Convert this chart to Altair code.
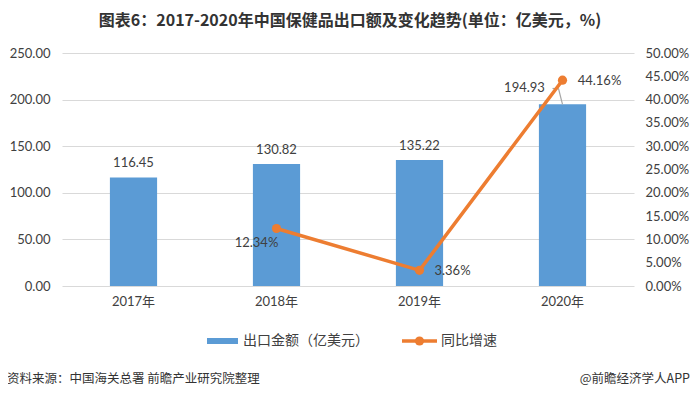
import altair as alt
import pandas as pd

years = ["2017年", "2018年", "2019年", "2020年"]
export_values = [116.45, 130.82, 135.22, 194.93]
export_labels = ["116.45", "130.82", "135.22", "194.93"]
growth_years = ["2018年", "2019年", "2020年"]
growth_rates = [0.1234, 0.0336, 0.4416]
growth_labels = ["12.34%", "3.36%", "44.16%"]
left_ticks = [0, 50, 100, 150, 200, 250]
right_ticks = [0.0, 0.05, 0.10, 0.15, 0.20, 0.25, 0.30, 0.35, 0.40, 0.45, 0.50]

title_text = "图表6：2017-2020年中国保健品出口额及变化趋势(单位：亿美元，%)"
legend_bar = "出口金额（亿美元）"
legend_line = "同比增速"
source_text = "资料来源：中国海关总署 前瞻产业研究院整理"
brand_text = "@前瞻经济学人APP"

BLUE = "#5B9BD5"
ORANGE = "#ED7D31"
GRID = "#D9D9D9"
TXT = "#404040"
FONT = 'Lato, "Noto Sans CJK SC", sans-serif'
CJK = '"Noto Sans CJK SC", sans-serif'

bars_df = pd.DataFrame({"year": years, "value": export_values, "label": export_labels})
line_df = pd.DataFrame({"year": growth_years, "rate": growth_rates, "label": growth_labels})
one = pd.DataFrame({"k": [0]})

xenc = alt.X("year:N", sort=years,
             scale=alt.Scale(paddingInner=0.67, paddingOuter=0.335),
             axis=alt.Axis(title=None, labelAngle=0, ticks=False, domain=False,
                           labelFont=FONT, labelFontSize=13, labelColor=TXT, labelPadding=9))

left_axis = alt.Axis(title=None, values=left_ticks, format=".2f", grid=True,
                     gridColor=GRID, domain=False, ticks=False, labelPadding=12,
                     labelFont=FONT, labelFontSize=13, labelColor=TXT)
left_scale = alt.Scale(domain=[0, 250], nice=False)
yleft = alt.Y("value:Q", scale=left_scale, axis=left_axis)

yright = alt.Y("rate:Q", scale=alt.Scale(domain=[0, 0.5], nice=False),
               axis=alt.Axis(title=None, orient="right", values=right_ticks, format=".2%",
                             grid=False, domain=False, ticks=False, labelPadding=11,
                             labelFont=FONT, labelFontSize=13, labelColor=TXT))

base_b = alt.Chart(bars_df)
bars = base_b.mark_bar(color=BLUE).encode(x=xenc, y=yleft)
btxt1 = base_b.transform_filter(alt.datum.year != "2020年").mark_text(
    dy=-14, font=FONT, fontSize=13, color=TXT).encode(x=xenc, y=yleft, text="label:N")
btxt2 = base_b.transform_filter(alt.datum.year == "2020年").mark_text(
    dx=-38, dy=-16, font=FONT, fontSize=13, color=TXT).encode(x=xenc, y=yleft, text="label:N")
last = base_b.transform_filter(alt.datum.year == "2020年").transform_calculate(top="datum.value + 17")
leader1 = last.mark_rule(color="#A6A6A6", strokeWidth=1.2, x2Offset=-4).encode(
    x=xenc, x2=alt.X2("year:N"), y=yleft, y2=alt.Y2("top:Q"))
leader2 = last.mark_rule(color="#A6A6A6", strokeWidth=1.2, xOffset=-4, x2Offset=-10).encode(
    x=xenc, x2=alt.X2("year:N"), y=alt.Y("top:Q", scale=left_scale, axis=left_axis))
left_layer = alt.layer(bars, btxt1, btxt2, leader1, leader2)

base_l = alt.Chart(line_df)
line = base_l.mark_line(color=ORANGE, strokeWidth=3.5).encode(x=xenc, y=yright)
pts = base_l.mark_point(color=ORANGE, filled=True, opacity=1, size=85).encode(x=xenc, y=yright)
offsets = {"2018年": (-20, 15), "2019年": (33, 1), "2020年": (37, 1)}
ltxts = [
    base_l.transform_filter(alt.datum.year == yr).mark_text(
        dx=dx, dy=dy, font=FONT, fontSize=13, color=TXT).encode(x=xenc, y=yright, text="label:N")
    for yr, (dx, dy) in offsets.items()
]
right_layer = alt.layer(line, pts, *ltxts)

base_o = alt.Chart(one)
title = base_o.mark_text(font=CJK, fontSize=16, fontWeight="bold", color="#333333",
                         align="center", baseline="middle").encode(
    x=alt.value(288), y=alt.value(-32), text=alt.value(title_text))
leg_rect = base_o.mark_rect(color=BLUE).encode(
    x=alt.value(145), x2=alt.value(176), y=alt.value(285), y2=alt.value(291))
leg_t1 = base_o.mark_text(font=CJK, fontSize=14, color=TXT, align="left", baseline="middle").encode(
    x=alt.value(181), y=alt.value(288), text=alt.value(legend_bar))
leg_line = base_o.mark_rule(color=ORANGE, strokeWidth=3.5).encode(
    x=alt.value(340), x2=alt.value(375), y=alt.value(288))
leg_dot = base_o.mark_point(color=ORANGE, filled=True, opacity=1, size=85).encode(
    x=alt.value(357.5), y=alt.value(288))
leg_t2 = base_o.mark_text(font=CJK, fontSize=14, color=TXT, align="left", baseline="middle").encode(
    x=alt.value(379), y=alt.value(288), text=alt.value(legend_line))
src = base_o.mark_text(font=CJK, fontSize=12.5, color="#333333", align="left", baseline="middle").encode(
    x=alt.value(-55), y=alt.value(326), text=alt.value(source_text))
brand = base_o.mark_text(font=CJK, fontSize=12.5, color="#333333", align="right", baseline="middle").encode(
    x=alt.value(628), y=alt.value(326), text=alt.value(brand_text))
extras = alt.layer(title, leg_rect, leg_t1, leg_line, leg_dot, leg_t2, src, brand)

chart = alt.layer(left_layer, right_layer, extras).resolve_scale(y="independent").properties(
    width=572, height=233,
    padding={"left": 54, "top": 45, "right": 58, "bottom": 104},
    autosize=alt.AutoSizeParams(type="none"),
    background="white",
).configure_view(stroke=None)

chart.save("out.html", embed_options={"renderer": "svg", "actions": False})
